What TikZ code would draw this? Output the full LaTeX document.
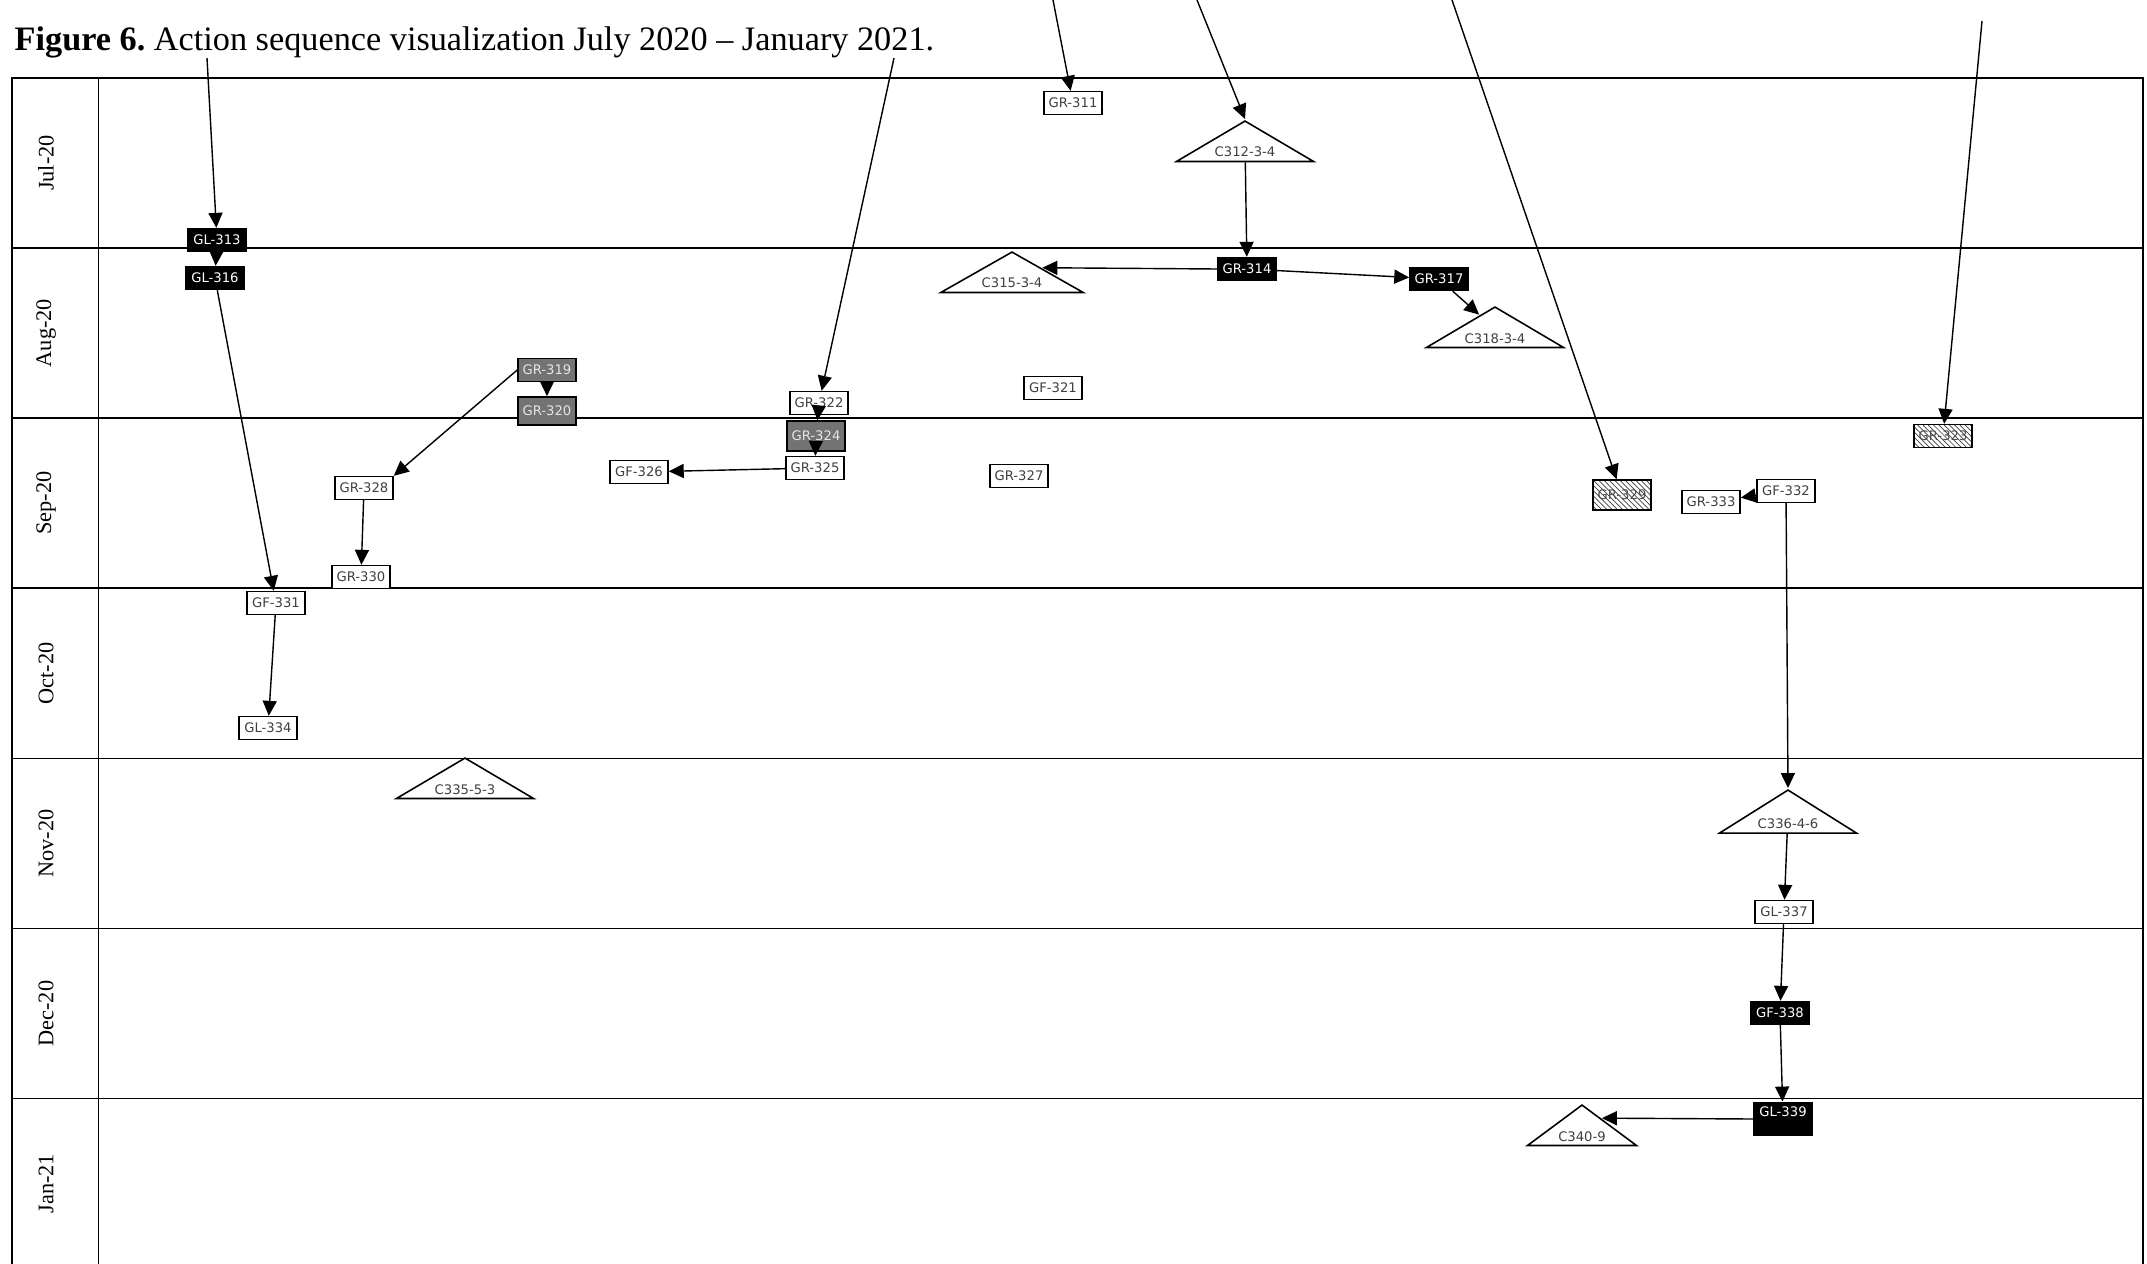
\documentclass[tikz,border=0pt]{standalone}
\usepackage{fontspec}
\setmainfont{Liberation Serif}
\newfontfamily\actfont{DejaVu Sans}
\usetikzlibrary{arrows.meta, calc, shapes.geometric, patterns}

\begin{document}
\frenchspacing
\begin{tikzpicture}[x=0.02cm, y=-0.02cm,
  >={Triangle[length=8.5pt, width=8pt]}, line width=0.8pt,
  act/.style={draw, line width=0.9pt, inner xsep=2pt, inner ysep=1pt,
              minimum width=33pt, minimum height=13pt,
              font=\actfont\fontsize{7.5pt}{9pt}\selectfont},
  wbox/.style={act, fill=white, text=black!75},
  bbox/.style={act, fill=black, text=white},
  gbox/.style={act, fill=black!55, text=black!10},
  hbox/.style={act, pattern=north west lines, pattern color=black!75, text=black!70},
  tri/.style={isosceles triangle, isosceles triangle stretches,
              shape border rotate=90, draw, fill=white, line width=0.9pt,
              inner sep=0pt, minimum width=78pt, minimum height=23pt,
              anchor=apex},
  trilbl/.style={anchor=base, yshift=3pt, inner sep=0pt, text=black!75,
                 font=\actfont\fontsize{7.5pt}{9pt}\selectfont},
  month/.style={rotate=90, font=\fontsize{12.7pt}{15pt}\selectfont}]

  \useasboundingbox (0,0) rectangle (2147,1264);

  % month grid
  \draw[line width=1pt] (12,1264) -- (12,78) -- (2143,78) -- (2143,1264);
  \draw[line width=1pt] (98.6,78) -- (98.6,1264);
  \foreach \i in {1,...,6}
    \draw[line width=1pt] (12,{78+170.1*\i}) -- (2143,{78+170.1*\i});
  \foreach \m [count=\i] in {Jul-20,Aug-20,Sep-20,Oct-20,Nov-20,Dec-20,Jan-21}
    \node[month] (m\i) at (46,{78+170.1*(\i-0.5)}) {\m};

  \node[anchor=base west, inner sep=0pt, font=\fontsize{19.5pt}{22pt}\selectfont]
    (cap) at (14,51) {\textbf{Figure 6.} Action sequence visualization July 2020 -- January 2021.};

  % actions
  \node[wbox] (gr311) at (1073,103) {GR-311};
  \node[tri, label={[trilbl]below:C312-3-4}] (c312) at (1245,119) {};
  \node[bbox] (gl313) at (217,240) {GL-313};
  \node[bbox] (gr314) at (1247,269) {GR-314};
  \node[tri, minimum width=81pt, label={[trilbl]below:C315-3-4}] (c315) at (1012,250) {};
  \node[bbox] (gl316) at (215,278) {GL-316};
  \node[bbox] (gr317) at (1439,279) {GR-317};
  \node[tri, label={[trilbl]below:C318-3-4}] (c318) at (1495,305) {};
  \node[gbox] (gr319) at (547,370) {GR-319};
  \node[gbox, minimum height=16pt] (gr320) at (547,411) {GR-320};
  \node[wbox] (gf321) at (1053,388) {GF-321};
  \node[wbox] (gr322) at (819,403) {GR-322};
  \node[hbox] (gr323) at (1943,436) {GR-323};
  \node[gbox, minimum height=17pt] (gr324) at (816,436) {GR-324};
  \node[wbox] (gr325) at (815,468) {GR-325};
  \node[wbox] (gf326) at (639,472) {GF-326};
  \node[wbox] (gr327) at (1019,476) {GR-327};
  \node[wbox] (gr328) at (364,488) {GR-328};
  \node[hbox, minimum height=17pt] (gr329) at (1622,495) {GR-329};
  \node[wbox] (gr330) at (361,577) {GR-330};
  \node[wbox] (gf331) at (276,603) {GF-331};
  \node[wbox] (gf332) at (1786,491) {GF-332};
  \node[wbox] (gr333) at (1711,502) {GR-333};
  \node[wbox] (gl334) at (268,728) {GL-334};
  \node[tri, label={[trilbl]below:C335-5-3}] (c335) at (465,756) {};
  \node[tri, minimum height=24.5pt, label={[trilbl]below:C336-4-6}] (c336) at (1788,788) {};
  \node[wbox] (gl337) at (1784,912) {GL-337};
  \node[bbox] (gf338) at (1780,1013) {GF-338};
  \node[bbox, minimum height=19pt, text depth=8pt] (gl339) at (1783,1119) {GL-339};
  \node[tri, minimum width=62pt, label={[trilbl]below:C340-9}] (c340) at (1582,1103) {};

  % edges coming in from earlier months
  \coordinate (in311) at (1053,0);
  \coordinate (in312) at (1197,0);
  \coordinate (in313) at (207,58);
  \coordinate (in322) at (894,58);
  \coordinate (in323) at (1982,21);
  \coordinate (in329) at (1452,0);

  \draw[->] (in311) -- (gr311);
  \draw[->] (in312) -- (c312.apex);
  \draw[->] (in313) -- (gl313);
  \draw[->] (in322) -- (gr322);
  \draw[->] (in323) -- (gr323);
  \draw[->] (in329) -- (gr329);

  \draw[->] (gl313) -- (gl316);
  \draw[->] (c312) -- (gr314);
  \draw[->] (gr314.west) -- ($(c315.apex)!0.41!(c315.right corner)$);
  \draw[->] (gr314) -- (gr317);
  \draw[->] (gr317) -- (c318);
  \draw[->] (gl316) -- (gf331);
  \draw[->] (gr319) -- (gr320);
  \draw[->] (gr319.west) -- (gr328.north east);
  \draw[->] (gr328) -- (gr330);
  \draw[->] (gr322) -- (gr324);
  \draw[->] (gr324) -- (gr325);
  \draw[->] (gr325) -- (gf326);
  \draw[->] (gf331) -- (gl334);
  \draw[->] (gf332) -- (gr333);
  \draw[->] (gf332) -- (c336.apex);
  \draw[->] (c336) -- (gl337);
  \draw[->] (gl337) -- (gf338);
  \draw[->] (gf338) -- (gl339);
  \draw[->] (gl339.west) -- ($(c340.apex)!0.35!(c340.right corner)$);
\end{tikzpicture}
\end{document}
